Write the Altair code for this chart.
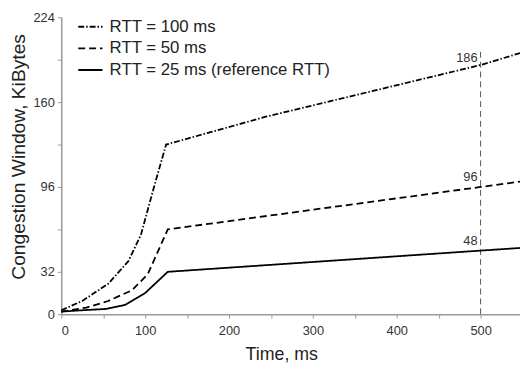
import altair as alt
import pandas as pd

series_names = ["RTT = 100 ms", "RTT = 50 ms", "RTT = 25 ms (reference RTT)"]

t_100 = [0, 25, 56, 80, 95, 111, 125, 244, 500, 547]
w_100 = [3, 10, 23, 40, 60, 97, 128, 149, 188, 197]

t_50 = [0, 30, 56, 84, 103, 115, 127, 500, 547]
w_50 = [2, 5, 10, 18, 30, 47, 64, 96, 100]

t_25 = [0, 25, 53, 76, 100, 127, 500, 547]
w_25 = [2, 3, 4, 7, 16, 32, 48, 50]

ann_t = [500, 500, 500]
ann_w = [186, 96, 48]
ann_text = ["186", "96", "48"]

marker_t = [500]
marker_w0 = [0]
marker_w1 = [199]

x_ticks = list(range(0, 526, 25))
y_ticks = list(range(0, 225, 16))
y_labels = [0, 32, 96, 160, 224]

FONT = "Liberation Sans, Arial, Helvetica, sans-serif"

rows = []
for name, ts, ws in zip(series_names, [t_100, t_50, t_25], [w_100, w_50, w_25]):
    for i, (t, w) in enumerate(zip(ts, ws)):
        rows.append({"series": name, "t": t, "w": w, "order": i})
df = pd.DataFrame(rows)

ann_df = pd.DataFrame({"t": ann_t, "w": ann_w, "label": ann_text})
marker_df = pd.DataFrame({"t": marker_t, "w0": marker_w0, "w1": marker_w1})

x_scale = alt.Scale(domain=[0, 547], nice=False, zero=False)
y_scale = alt.Scale(domain=[0, 224], nice=False)

y_label_expr = "indexof([" + ",".join(str(v) for v in y_labels) + "], datum.value) >= 0 ? datum.label : ''"

x_axis = alt.Axis(
    values=x_ticks,
    labelExpr="datum.value % 100 == 0 ? datum.label : ''",
    title="Time, ms",
    titleFontSize=18, titleFontWeight="normal", titleFont=FONT, titleColor="#222",
    titleX=223, titleY=41, titleBaseline="middle", titleAlign="center",
    labelFont=FONT, labelFontSize=13, labelColor="#333", labelPadding=7,
    tickSize=4, tickColor="#999", domainColor="#999", domainWidth=1.5,
    grid=False,
)
y_axis = alt.Axis(
    values=y_ticks,
    labelExpr=y_label_expr,
    title="Congestion Window, KiBytes",
    titleFontSize=19.5, titleFontWeight="normal", titleFont=FONT, titleColor="#222",
    titleX=-43, titleY=141, titleAngle=-90, titleBaseline="middle", titleAlign="center",
    labelFont=FONT, labelFontSize=13, labelColor="#333", labelPadding=3,
    tickSize=4, tickColor="#999", domainColor="#999", domainWidth=1.5,
    grid=False,
)

lines = alt.Chart(df).mark_line(color="black", strokeWidth=1.8).encode(
    x=alt.X("t:Q", scale=x_scale, axis=x_axis),
    y=alt.Y("w:Q", scale=y_scale, axis=y_axis),
    strokeDash=alt.StrokeDash(
        "series:N",
        scale=alt.Scale(domain=series_names, range=[[6, 2, 1.5, 2], [7, 4], [1, 0]]),
        sort=series_names,
        legend=alt.Legend(
            title=None, orient="none", legendX=16, legendY=-4,
            symbolType="stroke", symbolStrokeColor="black", symbolStrokeWidth=2,
            symbolSize=600, labelFont=FONT, labelFontSize=17, labelColor="#222",
            labelLimit=400, rowPadding=0, labelOffset=6, padding=0,
        ),
    ),
    order="order:Q",
)

marker = alt.Chart(marker_df).mark_rule(color="#555", strokeWidth=1, strokeDash=[6, 4]).encode(
    x=alt.X("t:Q", scale=x_scale),
    y=alt.Y("w0:Q", scale=y_scale),
    y2="w1:Q",
)

labels = alt.Chart(ann_df).mark_text(
    align="right", baseline="bottom", dx=-3, dy=-3, font=FONT, fontSize=13, color="#333"
).encode(
    x=alt.X("t:Q", scale=x_scale),
    y=alt.Y("w:Q", scale=y_scale),
    text="label:N",
)

chart = alt.layer(marker, lines, labels).properties(
    width=465, height=301,
    autosize=alt.AutoSizeParams(type="none"),
    padding={"left": 54, "top": 7, "right": 0, "bottom": 47},
    background="white",
).configure_view(stroke=None)

chart.save("out.html", embed_options={"renderer": "svg", "actions": False})
